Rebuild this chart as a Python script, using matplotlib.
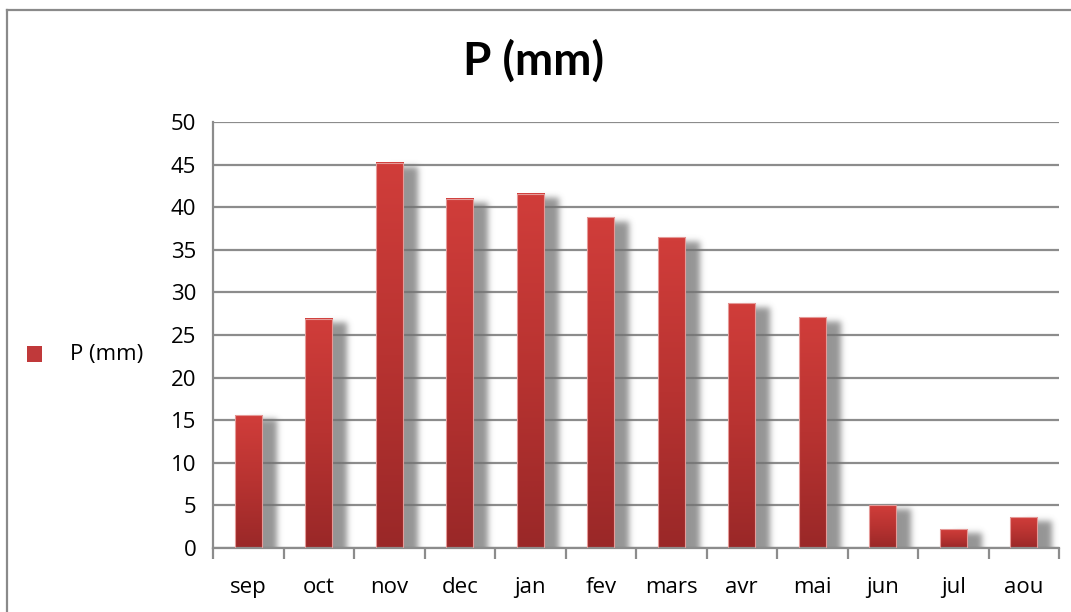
import math
import numpy as np
import matplotlib
matplotlib.use('Agg')
import matplotlib.pyplot as plt
from matplotlib.colors import LinearSegmentedColormap
from matplotlib.patches import Rectangle
from matplotlib.lines import Line2D

# monthly precipitation (mm), Sept -> Aug
months = ['sep', 'oct', 'nov', 'dec', 'jan', 'fev', 'mars', 'avr', 'mai', 'jun', 'jul', 'aou']
precip = [15.6, 26.9, 45.2, 41.0, 41.6, 38.8, 36.5, 28.7, 27.1, 5.0, 2.2, 3.6]
series_name = 'P (mm)'
y_ticks = [0, 5, 10, 15, 20, 25, 30, 35, 40, 45, 50]

plt.rcParams['font.family'] = ['Open Sans', 'DejaVu Sans']

bar_w = 0.385
grad = LinearSegmentedColormap.from_list('redgrad', ['#9a2828', '#b83331', '#d03d3a'])
grad_img = np.linspace(0, 1, 64).reshape(-1, 1)[::-1]
erf = np.frompyfunc(math.erf, 1, 1)


def soft_shadow(ax, x0, x1, y0, y1, sx, sy):
    """blurred gray rectangle drawn as an RGBA image in data coords"""
    pad_x, pad_y = 3 * sx, 3 * sy
    xs = np.linspace(x0 - pad_x, x1 + pad_x, 120)
    ys = np.linspace(max(y0 - pad_y, 0), y1 + pad_y, 200)
    ax_ = (erf((xs - x0) / sx) - erf((xs - x1) / sx)).astype(float) / 2
    ay_ = (erf((ys - y0) / sy) - erf((ys - y1) / sy)).astype(float) / 2
    alpha = np.outer(ay_, ax_) * 0.75
    rgba = np.zeros((len(ys), len(xs), 4))
    rgba[..., :3] = 0.45
    rgba[..., 3] = alpha
    ax.imshow(rgba, extent=(xs[0], xs[-1], ys[0], ys[-1]), origin='lower',
              aspect='auto', zorder=1, interpolation='bilinear')


fig = plt.figure(figsize=(10.71, 6.12), dpi=100)
ax = fig.add_axes([0.1989, 0.1046, 0.7899, 0.6961])

x = np.arange(len(months))
for xi, v in zip(x, precip):
    left, right = xi - bar_w / 2, xi + bar_w / 2
    soft_shadow(ax, left + 0.21, right + 0.21, -1.0, v - 0.45, 0.06, 0.5)
    ax.imshow(grad_img, cmap=grad, extent=(left, right, 0, v), aspect='auto',
              zorder=2, interpolation='bilinear')
    ax.add_patch(Rectangle((left, 0), bar_w, v, fill=False, edgecolor='#e59a98',
                           linewidth=0.8, zorder=3))

ax.set_xlim(-0.5, len(months) - 0.5)
ax.set_ylim(0, 50)
ax.set_yticks(y_ticks)
ax.set_yticklabels([str(t) for t in y_ticks])
ax.yaxis.grid(True, color='#8c8c8c', linewidth=1.6, zorder=0)
ax.set_axisbelow(True)
ax.tick_params(axis='y', length=0, labelsize=16, pad=12)

# category labels centred, tick marks on category boundaries
ax.set_xticks(x)
ax.set_xticklabels(months)
ax.set_xticks(np.arange(len(months) + 1) - 0.5, minor=True)
ax.tick_params(axis='x', which='major', length=0, labelsize=16, pad=21)
ax.tick_params(axis='x', which='minor', length=8, width=1.6, color='#8c8c8c',
               direction='out')

for side in ['top', 'right']:
    ax.spines[side].set_visible(False)
for side in ['left', 'bottom']:
    ax.spines[side].set_color('#8c8c8c')
    ax.spines[side].set_linewidth(1.6)

fig.text(0.498, 0.9, series_name, ha='center', va='center', fontsize=33,
         fontweight='bold', family=['Lato', 'DejaVu Sans'])

# legend on the left
fig.patches.append(Rectangle((0.0255, 0.409), 0.0135, 0.025, transform=fig.transFigure,
                             facecolor='#c0393a', edgecolor='none'))
fig.text(0.065, 0.421, series_name, ha='left', va='center', fontsize=16)

# chart frame (top and left edges)
fig.add_artist(Line2D([0.0065, 1.0], [0.984, 0.984], transform=fig.transFigure,
                      color='#8a8a8a', linewidth=1.6))
fig.add_artist(Line2D([0.0065, 0.0065], [0.0, 0.984], transform=fig.transFigure,
                      color='#8a8a8a', linewidth=1.6))

fig.savefig('out.png', dpi=100, facecolor='white')
